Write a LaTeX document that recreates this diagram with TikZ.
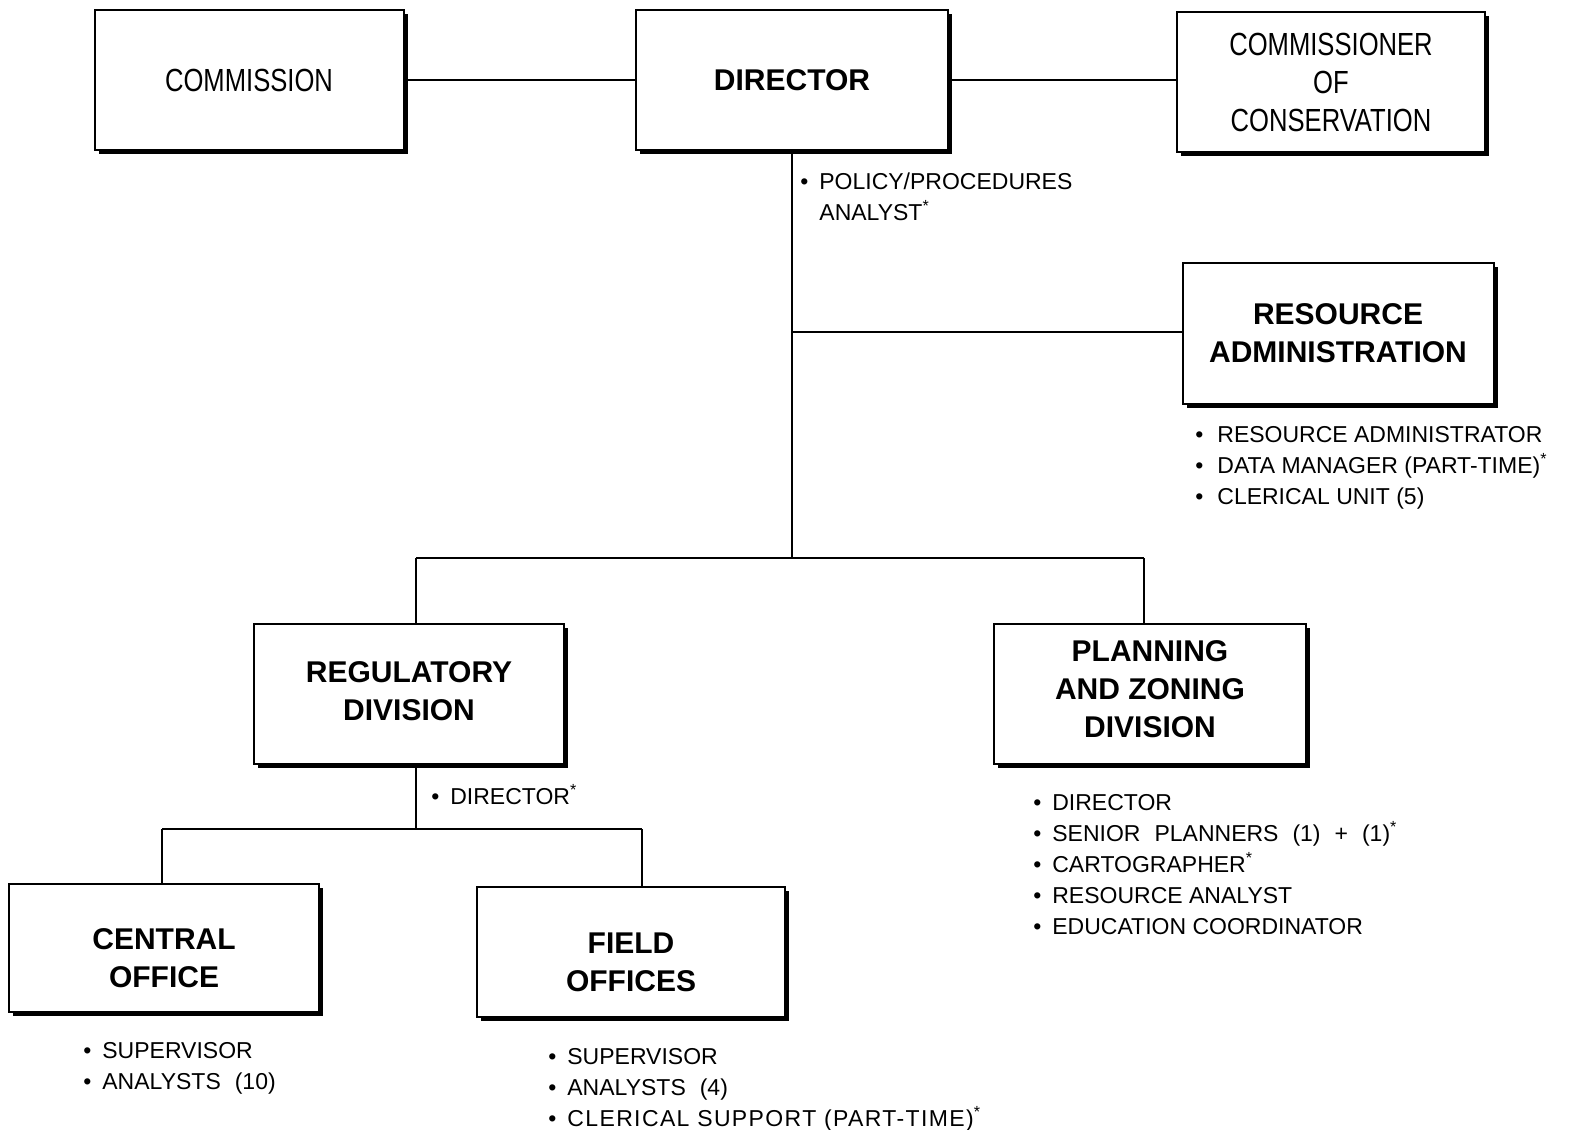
\documentclass[tikz,border=0pt]{standalone}
\usepackage{fontspec}
\setmainfont{Liberation Sans}
\newfontfamily\narrowfont[FakeStretch=0.8]{Liberation Sans}
\usetikzlibrary{shadows}

\newcommand{\blt}{\makebox[9.5pt][l]{\textbullet}}
\newcommand{\wsp}{\hspace{7pt}}
\tikzset{
  unitbox/.style={rectangle,draw=black,line width=1pt,fill=white,inner sep=0pt,align=center,
    general shadow={fill=black,shadow xshift=2pt,shadow yshift=-2pt},
    font=\fontsize{15}{19}\selectfont\bfseries},
  plainbox/.style={unitbox,font=\narrowfont\fontsize{16}{19}\selectfont},
  staff/.style={anchor=north west,inner sep=0pt,align=left,font=\fontsize{11.5}{15.5}\selectfont},
  link/.style={black,line width=1pt}
}

\begin{document}
\begin{tikzpicture}[x=0.5pt,y=-0.5pt]
\useasboundingbox (0,0) rectangle (1591,1130);

% top row
\node[plainbox,minimum width=154.5pt,minimum height=70pt] (comm) at (249,80) {COMMISSION};
\node[unitbox,minimum width=156pt,minimum height=70pt] (dir) at (792,80) {DIRECTOR};
\node[plainbox,minimum width=154pt,minimum height=70pt] (comr) at (1331,82) {COMMISSIONER\\OF\\CONSERVATION};

% staff unit
\node[unitbox,minimum width=155.5pt,minimum height=70.5pt] (resadm) at (1338,333) {RESOURCE\\ADMINISTRATION};

% divisions
\node[unitbox,minimum width=155pt,minimum height=70pt] (reg) at (409,694) {REGULATORY\\DIVISION\rule[-3pt]{0pt}{3pt}};
\node[unitbox,minimum width=156pt,minimum height=70pt] (plan) at (1150,694) {PLANNING\\AND ZONING\\DIVISION\rule[-5pt]{0pt}{5pt}};
\node[unitbox,minimum width=155pt,minimum height=64pt] (central) at (164,948) {\rule{0pt}{21pt}CENTRAL\\OFFICE};
\node[unitbox,minimum width=154pt,minimum height=65pt] (field) at (631,952) {\rule{0pt}{21pt}FIELD\\OFFICES};

% connectors
\coordinate (radj) at (792,332);
\coordinate (hub) at (792,558);
\coordinate (regtop) at (416,558);
\coordinate (plantop) at (1144,558);
\coordinate (subhub) at (416,829);
\coordinate (centtop) at (162,829);
\coordinate (fieldtop) at (642,829);

\draw[link] (comm.east) -- (dir.west);
\draw[link] (dir.east) -- (dir.east -| comr.west);
\draw[link] (dir.south) -- (hub);
\draw[link] (radj) -- (radj -| resadm.west);
\draw[link] (regtop) -- (plantop);
\draw[link] (regtop) -- (regtop |- reg.north);
\draw[link] (plantop) -- (plantop |- plan.north);
\draw[link] (reg.south -| subhub) -- (subhub);
\draw[link] (centtop) -- (fieldtop);
\draw[link] (centtop) -- (centtop |- central.north);
\draw[link] (fieldtop) -- (fieldtop |- field.north);

% staff lists
\node[staff] (policy) at (800,172) {\blt POLICY/PROCEDURES\\\hphantom{\blt}ANALYST\textsuperscript{*}};
\node[staff] (reslist) at (1195,426) {\makebox[11pt][l]{\textbullet}RESOURCE ADMINISTRATOR\\\makebox[11pt][l]{\textbullet}DATA MANAGER (PART-TIME)\textsuperscript{*}\\\makebox[11pt][l]{\textbullet}CLERICAL UNIT (5)};
\node[staff] (reglist) at (431,784) {\blt DIRECTOR\textsuperscript{*}};
\node[staff] (planlist) at (1033,794) {\blt DIRECTOR\\\blt SENIOR\wsp PLANNERS\wsp(1)\wsp+\wsp(1)\textsuperscript{*}\\\blt CARTOGRAPHER\textsuperscript{*}\\\blt RESOURCE ANALYST\\\blt EDUCATION COORDINATOR};
\node[staff] (centlist) at (83,1042) {\blt SUPERVISOR\\\blt ANALYSTS\wsp(10)};
\node[staff] (fieldlist) at (548,1048) {\blt SUPERVISOR\\\blt ANALYSTS\wsp(4)\\\blt {\addfontfeature{LetterSpace=6}CLERICAL SUPPORT (PART-TIME)}\textsuperscript{*}};

\end{tikzpicture}
\end{document}
